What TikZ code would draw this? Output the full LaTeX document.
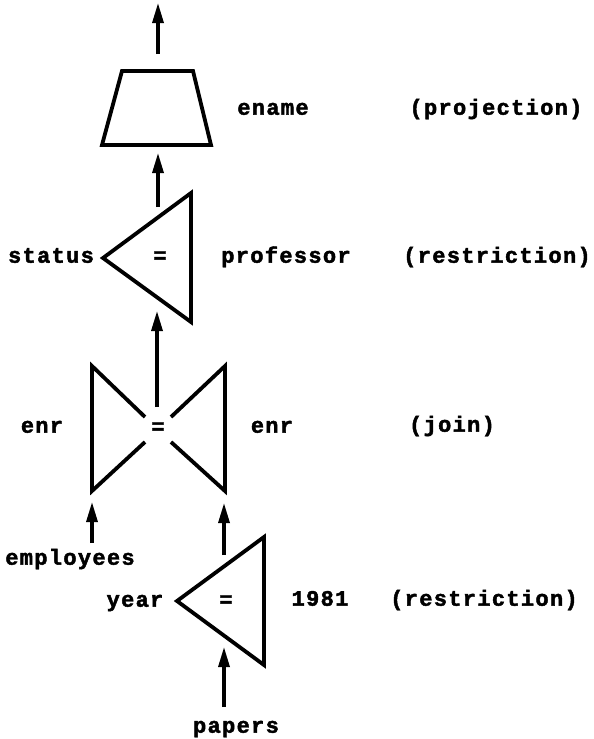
\documentclass[tikz,border=0pt]{standalone}
\usepackage{fontspec}
\newfontfamily\lblfont{Liberation Mono}[LetterSpace=6,BoldFeatures={FakeBold=2}]
\usetikzlibrary{arrows.meta}
\begin{document}
\begin{tikzpicture}[x=1pt,y=-1pt,
  opshape/.style={line width=3.8pt},
  flow/.style={line width=3.2pt,-{Triangle[length=20pt,width=11pt]}},
  lbl/.style={inner sep=0pt,text height=9.4pt,text depth=0pt,
    font=\lblfont\bfseries\fontsize{22}{24}\selectfont}]
\useasboundingbox (0,0) rectangle (594,739);

% operator shapes
\draw[opshape] (122,71) -- (193,71) -- (211,145) -- (102,145) -- cycle;   % projection
\draw[opshape] (103,258) -- (191,193) -- (191,322) -- cycle;              % restriction
\draw[opshape] (145,417) -- (92,366) -- (92,491) -- (145,442);            % join, left
\draw[opshape] (171,417) -- (225,366) -- (225,491) -- (171,442);          % join, right
\draw[opshape] (177,601) -- (264,537) -- (264,665) -- cycle;              % restriction

% arrow end points
\coordinate (out)    at (158,3);
\coordinate (projout) at (158,54);
\coordinate (projin) at (158,153);
\coordinate (r1out)  at (158,207);
\coordinate (r1in)   at (157,311);
\coordinate (jout)   at (157,407);
\coordinate (jinL)   at (92,502);
\coordinate (empout) at (92,543);
\coordinate (jinR)   at (224,503);
\coordinate (r2out)  at (224,555);
\coordinate (r2in)   at (224,647);
\coordinate (papout) at (224,707);

% labels
\node[lbl] (ename)     at (273,110) {ename};
\node[lbl] (projlbl)   at (496,110) {(projection)};
\node[lbl] (status)    at (51,258)  {status};
\node[lbl] (eqA)       at (160,258) {=};
\node[lbl] (professor) at (286,258) {professor};
\node[lbl] (restrA)    at (497,258) {(restriction)};
\node[lbl] (enrL)      at (42,428)  {enr};
\node[lbl] (eqB)       at (158,429) {=};
\node[lbl] (enrR)      at (272,428) {enr};
\node[lbl] (joinlbl)   at (452,427) {(join)};
\node[lbl] (employees) at (70,560)  {employees};
\node[lbl] (year)      at (135,602) {year};
\node[lbl] (eqC)       at (226,602) {=};
\node[lbl] (yr)        at (320,601) {1981};
\node[lbl] (restrB)    at (484,601) {(restriction)};
\node[lbl] (papers)    at (236,728) {papers};

% flow arrows
\draw[flow] (projout) -- (out);
\draw[flow] (r1out) -- (projin);
\draw[flow] (jout) -- (r1in);
\draw[flow] (empout) -- (jinL);
\draw[flow] (r2out) -- (jinR);
\draw[flow] (papout) -- (r2in);
\end{tikzpicture}
\end{document}
